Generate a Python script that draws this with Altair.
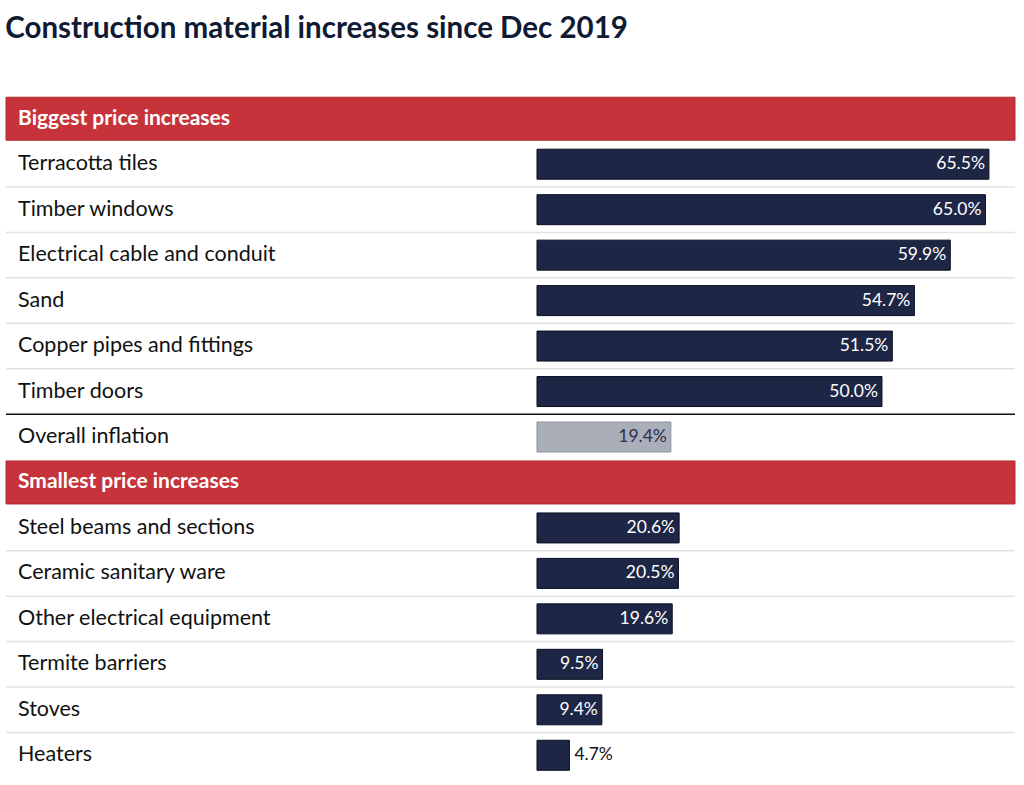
import altair as alt
import pandas as pd

labels = ["Biggest price increases", "Terracotta tiles", "Timber windows",
          "Electrical cable and conduit", "Sand", "Copper pipes and fittings",
          "Timber doors", "Overall inflation", "Smallest price increases",
          "Steel beams and sections", "Ceramic sanitary ware",
          "Other electrical equipment", "Termite barriers", "Stoves", "Heaters"]
values = [None, 65.5, 65.0, 59.9, 54.7, 51.5, 50.0, 19.4, None,
          20.6, 20.5, 19.6, 9.5, 9.4, 4.7]
kinds = ["header", "item", "item", "item", "item", "item", "item", "overall",
         "header", "item", "item", "item", "item", "item", "item"]
separators = ["none", "gray", "gray", "gray", "gray", "gray", "black", "none",
              "none", "gray", "gray", "gray", "gray", "gray", "none"]

rows = []
for i, (lab, v, k, s) in enumerate(zip(labels, values, kinds, separators)):
    rows.append({
        "idx": i, "label": lab, "value": v, "kind": k, "sep": s,
        "vlabel": (f"{v:.1f}%" if v is not None else ""),
        "inside": (v is not None and v > 6),
    })
df = pd.DataFrame(rows)

W = 1009
H = 682
FONT = "Lato"

yenc = alt.Y("idx:O", axis=None,
             scale=alt.Scale(paddingInner=0, paddingOuter=0))
xscale = alt.Scale(domain=[-76.96, 69.28], nice=False, zero=False)

base = alt.Chart(df)

headers = base.transform_filter("datum.kind == 'header'").mark_bar(
    size=43, color="#c6333a", stroke="#b32a31", strokeWidth=1
).encode(y=yenc, x=alt.value(0), x2=alt.value(W))

header_text = base.transform_filter("datum.kind == 'header'").mark_text(
    align="left", baseline="middle", font=FONT, fontSize=21,
    fontWeight="bold", color="white"
).encode(y=yenc, x=alt.value(12), text="label:N")

seps = base.transform_filter("datum.sep != 'none'").mark_rule(
    strokeWidth=1.5
).encode(
    y=alt.Y("idx:O", axis=None, bandPosition=1,
            scale=alt.Scale(paddingInner=0, paddingOuter=0)),
    x=alt.value(0), x2=alt.value(W),
    color=alt.Color("sep:N", legend=None,
                    scale=alt.Scale(domain=["gray", "black"],
                                    range=["#e2e2e2", "#111111"])),
)

row_text = base.transform_filter("datum.kind != 'header'").mark_text(
    align="left", baseline="middle", font=FONT, fontSize=21.5, color="#111111"
).encode(y=yenc, x=alt.value(12), text="label:N")

bars = base.transform_filter("datum.kind != 'header'").mark_bar(
    size=30, strokeWidth=1
).encode(
    y=yenc,
    x=alt.X("value:Q", scale=xscale, axis=None),
    x2=alt.datum(0),
    color=alt.Color("kind:N", legend=None,
                    scale=alt.Scale(domain=["item", "overall"],
                                    range=["#1e2646", "#a9aeb9"])),
    stroke=alt.Stroke("kind:N", legend=None,
                      scale=alt.Scale(domain=["item", "overall"],
                                      range=["#0b0f22", "#8d93a1"])),
)

val_in = base.transform_filter("datum.kind != 'header' && datum.inside").mark_text(
    align="right", baseline="middle", font=FONT, fontSize=17.5, dx=-4
).encode(
    y=yenc,
    x=alt.X("value:Q", scale=xscale, axis=None),
    text="vlabel:N",
    color=alt.Color("kind:N", legend=None,
                    scale=alt.Scale(domain=["item", "overall"],
                                    range=["#ffffff", "#2b3150"])),
)

val_out = base.transform_filter("datum.kind != 'header' && !datum.inside").mark_text(
    align="left", baseline="middle", font=FONT, fontSize=17.5, dx=5,
    color="#111111"
).encode(
    y=yenc,
    x=alt.X("value:Q", scale=xscale, axis=None),
    text="vlabel:N",
)

chart = alt.layer(
    headers, seps, bars, header_text, row_text, val_in, val_out
).resolve_scale(color="independent").properties(
    width=W, height=H,
    autosize=alt.AutoSizeParams(type="none"),
    padding={"left": 6, "top": 96, "right": 9, "bottom": 7},
    title=alt.TitleParams(
        "Construction material increases since Dec 2019",
        anchor="start", font=FONT, fontSize=29.5, fontWeight="bold",
        color="#111a33", offset=52, dx=0,
    ),
).configure_view(stroke=None)

chart.save("out.html", embed_options={"renderer": "svg", "actions": False})
